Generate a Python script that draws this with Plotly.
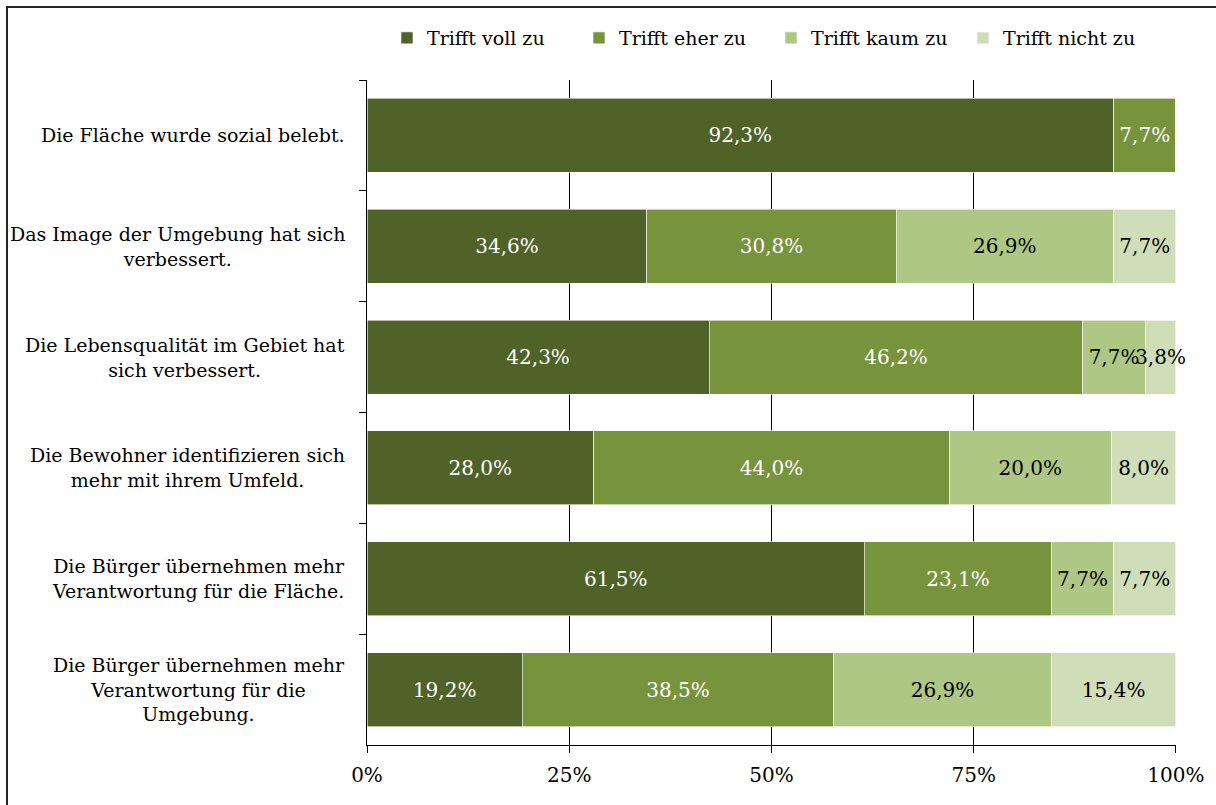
import plotly.graph_objects as go

categories = [
    "Die Fläche wurde sozial belebt.",
    "Das Image der Umgebung hat sich<br>verbessert.",
    "Die Lebensqualität im Gebiet hat<br>sich verbessert.",
    "Die Bewohner identifizieren sich<br>mehr mit ihrem Umfeld.",
    "Die Bürger übernehmen mehr<br>Verantwortung für die Fläche.",
    "Die Bürger übernehmen mehr<br>Verantwortung für die<br>Umgebung.",
]
series_names = ["Trifft voll zu", "Trifft eher zu", "Trifft kaum zu", "Trifft nicht zu"]
voll = [92.3, 34.6, 42.3, 28.0, 61.5, 19.2]
eher = [7.7, 30.8, 46.2, 44.0, 23.1, 38.5]
kaum = [0.0, 26.9, 7.7, 20.0, 7.7, 26.9]
nicht = [0.0, 7.7, 3.8, 8.0, 7.7, 15.4]
tick_vals = [0, 25, 50, 75, 100]
tick_text = ["0%", "25%", "50%", "75%", "100%"]

colors = ["#4F6228", "#77933C", "#AEC784", "#CFDDB8"]
text_colors = ["white", "white", "black", "black"]
FONT = "DejaVu Serif"

fig = go.Figure()
for name, vals, col, tcol in zip(series_names, [voll, eher, kaum, nicht], colors, text_colors):
    labels = [("%.1f%%" % v).replace(".", ",") if v > 0 else "" for v in vals]
    fig.add_trace(go.Bar(
        y=categories, x=vals, name=name, orientation="h",
        marker=dict(color=col, line=dict(color="white", width=0.6)),
        text=labels, textposition="inside", insidetextanchor="middle",
        textangle=0, constraintext="none", cliponaxis=False,
        textfont=dict(family=FONT, size=20, color=tcol),
        hoverinfo="skip",
    ))

L, R, T, B = 367, 40, 80, 60
W, H = 1216, 805
pw, ph = W - L - R, H - T - B

annotations = []
for c in categories:
    annotations.append(dict(
        x=(347 - L) / pw, xref="paper", y=c, yref="y",
        text=c, showarrow=False, xanchor="right", yanchor="middle",
        align="center", font=dict(family=FONT, size=19, color="black"),
    ))

fig.update_layout(
    barmode="stack",
    bargap=1/3,
    width=W, height=H,
    margin=dict(l=L, r=R, t=T, b=B, pad=0),
    plot_bgcolor="white", paper_bgcolor="white",
    font=dict(family=FONT, size=19, color="black"),
    legend=dict(
        orientation="h", x=(387 - L) / pw, xanchor="left",
        y=1 + (T - 38) / ph, yanchor="middle",
        font=dict(family=FONT, size=19, color="black"),
        entrywidth=147, itemwidth=30, traceorder="normal",
    ),
    xaxis=dict(
        range=[0, 100.01], tickvals=tick_vals, ticktext=tick_text,
        showgrid=True, gridcolor="black", gridwidth=1,
        zeroline=False, showline=True, linecolor="black", linewidth=1,
        ticks="outside", ticklen=7, tickcolor="black", ticklabelstandoff=5,
        tickfont=dict(family=FONT, size=20, color="black"),
    ),
    yaxis=dict(
        autorange="reversed", showticklabels=False,
        showline=True, linecolor="black", linewidth=1,
        ticks="outside", ticklen=7, tickcolor="black", tickson="boundaries",
        showgrid=False,
    ),
    annotations=annotations,
    shapes=[dict(
        type="rect", xref="paper", yref="paper",
        x0=(7 - L) / pw, x1=(W + 10 - L) / pw,
        y0=-(B + 10) / ph, y1=1 + (T - 7) / ph,
        line=dict(color="#262626", width=2), fillcolor="rgba(0,0,0,0)", layer="above",
    )],
)

fig.write_html("out.html")
